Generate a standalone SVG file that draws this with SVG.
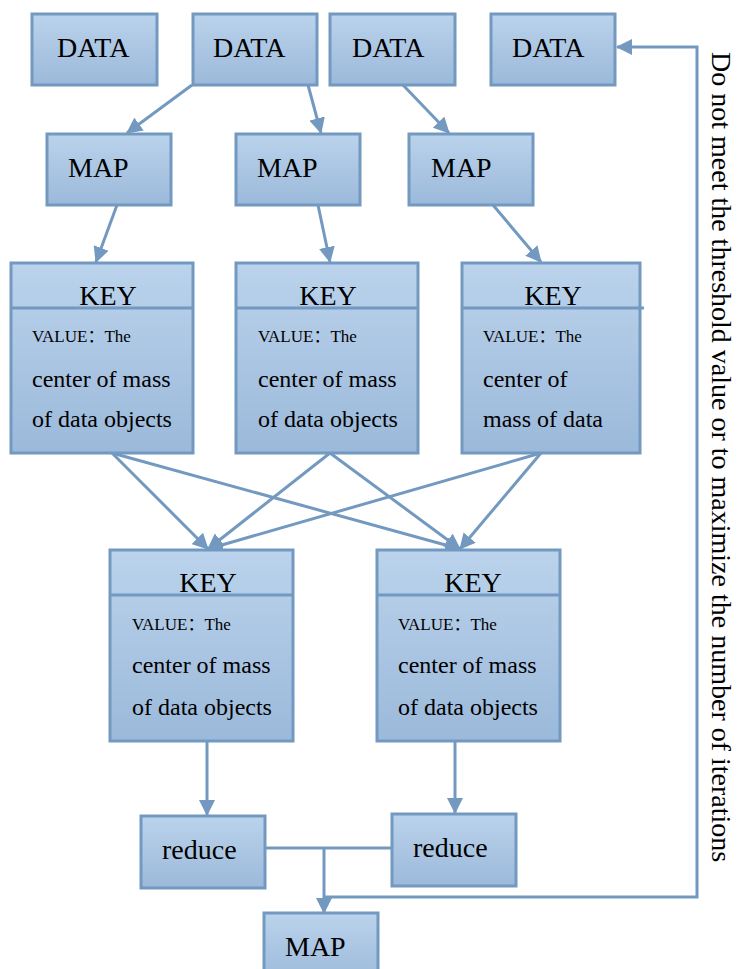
<svg xmlns="http://www.w3.org/2000/svg" width="739" height="969" viewBox="0 0 739 969">
<style>
.box{fill:url(#g);stroke:#7399c0;stroke-width:3}
.t{font-family:"Liberation Serif","Times New Roman","Noto Sans CJK SC",serif;fill:#000}
.big{font-size:28px}
.mid{font-size:24px}
.sm{font-size:17px}
.c{stroke:#7399c0;stroke-width:3;fill:none}
</style>
<defs>
<linearGradient id="g" x1="0" y1="0" x2="0" y2="1">
<stop offset="0" stop-color="#bbd3ec"/>
<stop offset="1" stop-color="#9bb9da"/>
</linearGradient>
<marker id="a" markerUnits="userSpaceOnUse" markerWidth="16" markerHeight="16" viewBox="0 0 16 16" refX="15" refY="8" orient="auto">
<path d="M0,0 L16,8 L0,16 z" fill="#7399c0"/>
</marker>
</defs>
<g id="connectors">
<line class="c" x1="192" y1="85" x2="127" y2="133" marker-end="url(#a)"/>
<line class="c" x1="308" y1="85" x2="321" y2="133" marker-end="url(#a)"/>
<line class="c" x1="403" y1="85" x2="449" y2="133" marker-end="url(#a)"/>
<line class="c" x1="117" y1="205" x2="96" y2="262" marker-end="url(#a)"/>
<line class="c" x1="318" y1="205" x2="330" y2="262" marker-end="url(#a)"/>
<line class="c" x1="493" y1="205" x2="541" y2="262" marker-end="url(#a)"/>
<line class="c" x1="112" y1="453" x2="208" y2="549" marker-end="url(#a)"/>
<line class="c" x1="112" y1="453" x2="460" y2="549" marker-end="url(#a)"/>
<line class="c" x1="330" y1="453" x2="208" y2="549" marker-end="url(#a)"/>
<line class="c" x1="330" y1="453" x2="460" y2="549" marker-end="url(#a)"/>
<line class="c" x1="541" y1="453" x2="208" y2="549" marker-end="url(#a)"/>
<line class="c" x1="541" y1="453" x2="460" y2="549" marker-end="url(#a)"/>
<line class="c" x1="207" y1="741" x2="207" y2="815" marker-end="url(#a)"/>
<line class="c" x1="455" y1="741" x2="455" y2="813" marker-end="url(#a)"/>
<line class="c" x1="265" y1="848" x2="391" y2="848"/>
<line class="c" x1="324" y1="848" x2="324" y2="913" marker-end="url(#a)"/>
<polyline class="c" points="324,897 697,897 697,47 617,47" marker-end="url(#a)"/>
</g>
<g id="data1"><rect class="box" x="32" y="14" width="125" height="71"/><text class="t big" x="57" y="57">DATA</text></g>
<g id="data2"><rect class="box" x="193" y="14" width="124" height="71"/><text class="t big" x="213" y="57">DATA</text></g>
<g id="data3"><rect class="box" x="330" y="14" width="125" height="71"/><text class="t big" x="352" y="57">DATA</text></g>
<g id="data4"><rect class="box" x="491" y="14" width="124" height="71"/><text class="t big" x="512" y="57">DATA</text></g>
<g id="map1"><rect class="box" x="47" y="134" width="124" height="71"/><text class="t big" x="68" y="177">MAP</text></g>
<g id="map2"><rect class="box" x="236" y="134" width="124" height="71"/><text class="t big" x="257" y="177">MAP</text></g>
<g id="map3"><rect class="box" x="409" y="134" width="124" height="71"/><text class="t big" x="431" y="177">MAP</text></g>
<g id="key1"><rect class="box" x="11" y="263" width="182" height="190"/><line class="c" x1="11" y1="308" x2="193" y2="308"/>
<text class="t big" x="108" y="305" text-anchor="middle">KEY</text>
<text class="t sm" x="32" y="342">VALUE：The</text>
<text class="t mid" x="32" y="387">center of mass</text>
<text class="t mid" x="32" y="427">of data objects</text></g>
<g id="key2"><rect class="box" x="236" y="263" width="182" height="190"/><line class="c" x1="236" y1="308" x2="418" y2="308"/>
<text class="t big" x="328" y="305" text-anchor="middle">KEY</text>
<text class="t sm" x="258" y="342">VALUE：The</text>
<text class="t mid" x="258" y="387">center of mass</text>
<text class="t mid" x="258" y="427">of data objects</text></g>
<g id="key3"><rect class="box" x="462" y="263" width="178" height="190"/><line class="c" x1="462" y1="308" x2="644" y2="308"/>
<text class="t big" x="553" y="305" text-anchor="middle">KEY</text>
<text class="t sm" x="483" y="342">VALUE：The</text>
<text class="t mid" x="483" y="387">center of</text>
<text class="t mid" x="483" y="427">mass of data</text></g>
<g id="key4"><rect class="box" x="110" y="550" width="183" height="191"/><line class="c" x1="110" y1="595" x2="293" y2="595"/>
<text class="t big" x="208" y="592" text-anchor="middle">KEY</text>
<text class="t sm" x="132" y="630">VALUE：The</text>
<text class="t mid" x="132" y="673">center of mass</text>
<text class="t mid" x="132" y="715">of data objects</text></g>
<g id="key5"><rect class="box" x="377" y="550" width="183" height="191"/><line class="c" x1="377" y1="595" x2="560" y2="595"/>
<text class="t big" x="473" y="592" text-anchor="middle">KEY</text>
<text class="t sm" x="398" y="630">VALUE：The</text>
<text class="t mid" x="398" y="673">center of mass</text>
<text class="t mid" x="398" y="715">of data objects</text></g>
<g id="reduce1"><rect class="box" x="141" y="816" width="124" height="72"/><text class="t big" x="162" y="859">reduce</text></g>
<g id="reduce2"><rect class="box" x="392" y="814" width="124" height="72"/><text class="t big" x="413" y="857">reduce</text></g>
<g id="map4"><rect class="box" x="264" y="913" width="114" height="70"/><text class="t big" x="285" y="956">MAP</text></g>
<g id="note"><text class="t" font-size="28" transform="translate(712,52) rotate(90)">Do not meet the threshold value or to maximize the number of iterations</text></g>
</svg>
